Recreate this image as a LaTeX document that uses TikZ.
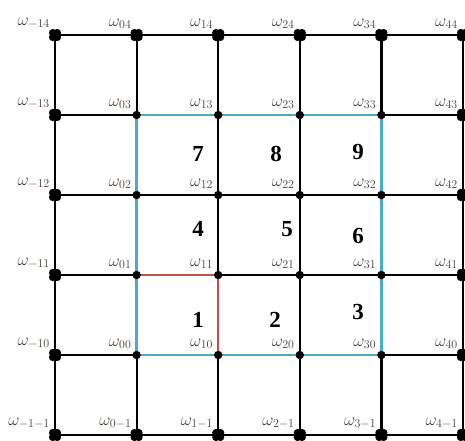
\documentclass[tikz,border=0pt]{standalone}
\usepackage{fontspec}
\newfontfamily\numfont{Liberation Serif}
\definecolor{gridblue}{HTML}{4BACC6}
\definecolor{gridred}{HTML}{C0504D}
\definecolor{lblcol}{RGB}{72,62,55}
\tikzset{
  gridline/.style={line width=2.2pt, black},
  blueline/.style={line width=2.4pt, gridblue},
  redline/.style={line width=2pt, gridred},
  wlabel/.style={anchor=south east, inner sep=0pt, text=lblcol, font=\fontsize{18}{20}\selectfont},
  cellnum/.style={inner sep=0pt, font=\fontsize{23}{25}\selectfont\numfont\bfseries}
}
\newcommand\bigdotat[1]{%
  \fill (#1) ++(2.2,2.2) circle (3.9);
  \fill (#1) ++(-2.2,2.2) circle (3.9);
  \fill (#1) ++(2.2,-2.2) circle (3.9);
  \fill (#1) ++(-2.2,-2.2) circle (3.9);
  \fill (#1) circle (4.5);}
\begin{document}
\begin{tikzpicture}[x=1pt,y=-1pt]
\useasboundingbox (0,0) rectangle (465,440);
\foreach \i/\xx in {0/55,1/136.6,2/218.2,3/299.8,4/381.4,5/463}
  \foreach \j/\yy in {0/435,1/355,2/275,3/195,4/115,5/35}
    \coordinate (p\i\j) at (\xx,\yy);
% grid lines
\foreach \j in {0,...,5} \draw[gridline] (p0\j) -- (p5\j);
\foreach \i in {0,...,5} \draw[gridline] (p\i0) -- (p\i5);
% highlighted region
\draw[blueline] (p14) rectangle (p41);
\draw[redline] (p12) -- (p22) -- (p21);
% dots
\foreach \i in {1,...,4} \foreach \j in {1,...,4} \fill (p\i\j) circle (4.2);
\foreach \i in {0,...,5} {\bigdotat{p\i0} \bigdotat{p\i5}}
\foreach \j in {1,...,4} {\bigdotat{p0\j} \bigdotat{p5\j}}
% labels
\foreach \i/\a in {0/-1,1/0,2/1,3/2,4/3,5/4}
  \foreach \j/\b in {0/-1,1/0,2/1,3/2,4/3,5/4}
    \node[wlabel] (l\i\j) at ([shift={(-5,-6)}]p\i\j) {$\omega_{\a\b}$};
% cell numbers
\node[cellnum] (n7) at (198,154) {7};
\node[cellnum] (n8) at (276,154) {8};
\node[cellnum] (n9) at (358,152) {9};
\node[cellnum] (n4) at (198,229) {4};
\node[cellnum] (n5) at (287,229) {5};
\node[cellnum] (n6) at (358,236) {6};
\node[cellnum] (n1) at (198,320) {1};
\node[cellnum] (n2) at (275,320) {2};
\node[cellnum] (n3) at (358,312) {3};
\end{tikzpicture}
\end{document}
